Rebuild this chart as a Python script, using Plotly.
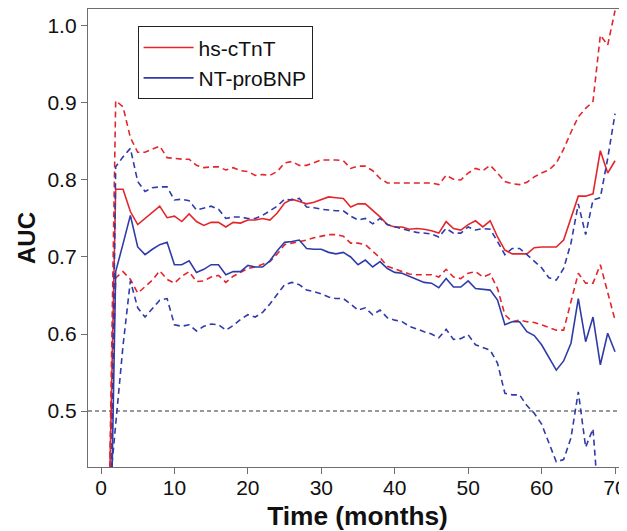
import plotly.graph_objects as go

months = list(range(1, 71))

hs_ctnt_auc = [0.32, 0.788, 0.788, 0.759, 0.742, 0.750, 0.758, 0.766, 0.751, 0.753,
               0.746, 0.756, 0.746, 0.741, 0.745, 0.745, 0.739, 0.745, 0.744, 0.748,
               0.748, 0.750, 0.748, 0.757, 0.770, 0.775, 0.772, 0.769, 0.771, 0.774,
               0.778, 0.777, 0.776, 0.765, 0.769, 0.769, 0.761, 0.752, 0.742, 0.739,
               0.739, 0.736, 0.737, 0.736, 0.734, 0.731, 0.746, 0.737, 0.735, 0.742,
               0.747, 0.739, 0.747, 0.726, 0.709, 0.704, 0.704, 0.704, 0.712, 0.713,
               0.713, 0.713, 0.722, 0.752, 0.779, 0.779, 0.782, 0.838, 0.809, 0.825]
hs_ctnt_upper = [0.31, 0.903, 0.895, 0.855, 0.836, 0.836, 0.840, 0.844, 0.829, 0.828,
                 0.827, 0.827, 0.819, 0.816, 0.817, 0.817, 0.813, 0.816, 0.812, 0.811,
                 0.806, 0.807, 0.806, 0.811, 0.822, 0.824, 0.819, 0.819, 0.822, 0.826,
                 0.826, 0.826, 0.825, 0.815, 0.818, 0.818, 0.812, 0.802, 0.796, 0.796,
                 0.796, 0.796, 0.796, 0.796, 0.796, 0.794, 0.806, 0.801, 0.800, 0.809,
                 0.815, 0.812, 0.819, 0.809, 0.798, 0.795, 0.794, 0.797, 0.804, 0.809,
                 0.813, 0.822, 0.840, 0.862, 0.882, 0.893, 0.902, 0.988, 0.975, 1.020]
hs_ctnt_lower = [0.36, 0.673, 0.681, 0.671, 0.653, 0.662, 0.670, 0.682, 0.671, 0.666,
                 0.675, 0.681, 0.668, 0.669, 0.674, 0.676, 0.667, 0.675, 0.680, 0.685,
                 0.687, 0.690, 0.694, 0.704, 0.716, 0.718, 0.720, 0.722, 0.725, 0.727,
                 0.729, 0.729, 0.727, 0.718, 0.718, 0.716, 0.707, 0.699, 0.688, 0.684,
                 0.681, 0.678, 0.677, 0.677, 0.677, 0.674, 0.684, 0.674, 0.672, 0.679,
                 0.681, 0.674, 0.678, 0.659, 0.625, 0.616, 0.618, 0.616, 0.615, 0.612,
                 0.608, 0.605, 0.605, 0.644, 0.679, 0.666, 0.666, 0.690, 0.653, 0.618]

ntprobnp_auc = [0.15, 0.681, 0.717, 0.754, 0.713, 0.703, 0.710, 0.716, 0.719, 0.690,
                0.690, 0.695, 0.680, 0.684, 0.690, 0.690, 0.677, 0.681, 0.681, 0.689,
                0.687, 0.687, 0.695, 0.708, 0.719, 0.720, 0.722, 0.711, 0.710, 0.710,
                0.706, 0.704, 0.706, 0.700, 0.690, 0.696, 0.687, 0.694, 0.685, 0.680,
                0.679, 0.675, 0.670, 0.667, 0.666, 0.660, 0.672, 0.661, 0.661, 0.669,
                0.659, 0.658, 0.657, 0.644, 0.612, 0.616, 0.616, 0.603, 0.598, 0.586,
                0.570, 0.553, 0.565, 0.588, 0.646, 0.590, 0.622, 0.560, 0.601, 0.577]
ntprobnp_upper = [0.10, 0.817, 0.830, 0.841, 0.798, 0.785, 0.790, 0.791, 0.791, 0.774,
                  0.775, 0.773, 0.761, 0.764, 0.766, 0.762, 0.750, 0.752, 0.752, 0.750,
                  0.750, 0.754, 0.760, 0.766, 0.775, 0.774, 0.776, 0.765, 0.764, 0.762,
                  0.761, 0.760, 0.760, 0.753, 0.748, 0.750, 0.743, 0.750, 0.742, 0.739,
                  0.737, 0.734, 0.732, 0.731, 0.730, 0.726, 0.737, 0.731, 0.731, 0.739,
                  0.735, 0.737, 0.736, 0.720, 0.703, 0.711, 0.711, 0.703, 0.694, 0.686,
                  0.673, 0.670, 0.685, 0.718, 0.769, 0.729, 0.774, 0.777, 0.828, 0.886]
ntprobnp_lower = [0.38, 0.480, 0.585, 0.669, 0.634, 0.622, 0.633, 0.644, 0.646, 0.612,
                  0.610, 0.612, 0.604, 0.610, 0.613, 0.612, 0.605, 0.611, 0.619, 0.625,
                  0.622, 0.628, 0.639, 0.652, 0.664, 0.667, 0.664, 0.657, 0.655, 0.652,
                  0.648, 0.646, 0.646, 0.639, 0.631, 0.634, 0.625, 0.631, 0.621, 0.618,
                  0.616, 0.610, 0.606, 0.603, 0.600, 0.595, 0.606, 0.593, 0.594, 0.599,
                  0.586, 0.583, 0.579, 0.562, 0.523, 0.521, 0.521, 0.507, 0.497, 0.483,
                  0.459, 0.434, 0.437, 0.465, 0.525, 0.453, 0.477, 0.350, 0.350, 0.350]

x_ticks = [0, 10, 20, 30, 40, 50, 60, 70]
y_ticks = [0.5, 0.6, 0.7, 0.8, 0.9, 1.0]
y_tick_labels = ["0.5", "0.6", "0.7", "0.8", "0.9", "1.0"]
reference_auc = 0.5

RED = "#E3262C"
BLUE = "#2F3CA8"
FONT = "Liberation Sans, Arial, sans-serif"
AXIS_GREY = "#6E6E6E"

fig = go.Figure()

series = [
    ("hs-cTnT", hs_ctnt_auc, hs_ctnt_upper, hs_ctnt_lower, RED),
    ("NT-proBNP", ntprobnp_auc, ntprobnp_upper, ntprobnp_lower, BLUE),
]
for name, auc, up, lo, col in series:
    fig.add_trace(go.Scatter(x=months, y=auc, mode="lines", name=name,
                             line=dict(color=col, width=1.6), showlegend=True))
    for band in (up, lo):
        fig.add_trace(go.Scatter(x=months, y=band, mode="lines", name=name,
                                 line=dict(color=col, width=1.6, dash="6px,4px"),
                                 showlegend=False, hoverinfo="skip"))

fig.add_shape(type="line", xref="paper", x0=0, x1=1, yref="y",
              y0=reference_auc, y1=reference_auc,
              line=dict(color="#333333", width=1, dash="4px,3px"), layer="below")

# the page body adds an 8px offset, so the figure is sized to end at the window edge
fig.update_layout(
    width=619, height=523,
    margin=dict(l=80, r=0, t=1, b=64),
    paper_bgcolor="white", plot_bgcolor="white",
    font=dict(family=FONT, color="#111111"),
    showlegend=True,
    legend=dict(x=0.092, y=0.962, xanchor="left", yanchor="top",
                bgcolor="white", bordercolor="#222222", borderwidth=1,
                font=dict(size=21, family=FONT, color="#111111"),
                itemwidth=50, tracegroupgap=0),
    xaxis=dict(range=[-1.77, 71.63], tickvals=x_ticks, ticks="outside", ticklen=6,
               tickcolor=AXIS_GREY, tickwidth=1.3, showline=True, linecolor=AXIS_GREY,
               linewidth=1.3, mirror=True, showgrid=False, zeroline=False,
               automargin=False, ticklabelstandoff=-4,
               tickfont=dict(size=21, family=FONT, color="#111111"),
               title=dict(text="Time (months)", standoff=8,
                          font=dict(size=26.3, family=FONT, weight="bold", color="#111111"))),
    yaxis=dict(range=[0.4273, 1.022], tickvals=y_ticks, ticktext=y_tick_labels,
               ticks="outside", ticklen=6, tickcolor=AXIS_GREY, tickwidth=1.3,
               showline=True, linecolor=AXIS_GREY, linewidth=1.3, mirror=False,
               showgrid=False, zeroline=False, automargin=False,
               tickfont=dict(size=21, family=FONT, color="#111111"),
               title=dict(text="AUC", standoff=5,
                          font=dict(size=24, family=FONT, weight="bold", color="#111111"))),
)

fig.write_html("out.html")
